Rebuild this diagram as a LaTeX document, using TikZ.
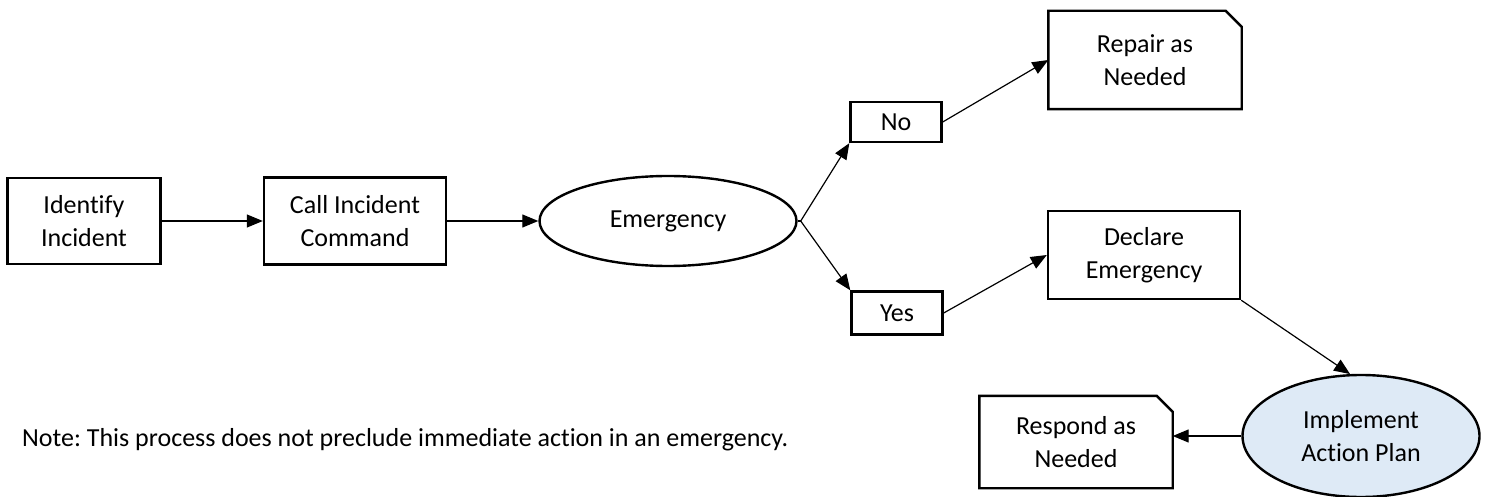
\documentclass[tikz,border=0pt]{standalone}
\usepackage{fontspec}
\setmainfont[Ligatures=NoCommon]{Carlito}
\usetikzlibrary{shapes.geometric,arrows.meta}
\definecolor{implfill}{RGB}{222,234,246}
\frenchspacing
\tikzset{
  box/.style={draw, line width=2.4pt, rectangle, align=center, inner sep=0pt},
  ebox/.style={rectangle, align=center, inner sep=0pt},
  oval/.style={draw, line width=2.4pt, ellipse, align=center, inner sep=0pt},
  conn/.style={line width=1.2pt, -{Triangle[length=16pt,width=13pt]}},
  plain/.style={line width=1.2pt},
  ear/.style={draw, line width=2.4pt, line join=miter}
}
\begin{document}
\begin{tikzpicture}[x=1pt,y=-1pt,font=\fontsize{26}{33}\selectfont]
\useasboundingbox (0,0) rectangle (1486,497);
\node[box, minimum width=153pt, minimum height=86pt] (id) at (84,221) {Identify\\Incident};
\node[box, minimum width=182pt, minimum height=87pt] (call) at (355,221) {Call Incident\\Command};
\node[oval, minimum width=257pt, minimum height=90pt] (emerg) at (668,221) {Emergency};
\node[box, minimum width=91pt, minimum height=40pt] (no) at (896,122) {No};
\node[box, minimum width=91pt, minimum height=43pt] (yes) at (897,313) {Yes};
\node[ebox, minimum width=193pt, minimum height=98pt] (repair) at (1145,60) {Repair as\\Needed};
\node[box, minimum width=192pt, minimum height=88pt] (declare) at (1144,255) {Declare\\Emergency};
\node[oval, fill=implfill, minimum width=237pt, minimum height=122pt] (impl) at (1361,436) {Implement\\Action Plan};
\node[ebox, minimum width=193pt, minimum height=92pt] (respond) at (1076,442) {Respond as\\Needed};
\node[anchor=west, inner sep=0pt] (note) at (22,440) {Note: This process does not preclude immediate action in an emergency.};
% dog-eared boxes
\draw[ear] (repair.south west) -- (repair.north west) -- ([xshift=-16pt]repair.north east) -- ([yshift=-16pt]repair.north east) -- (repair.south east) -- cycle;
\draw[ear] (respond.south west) -- (respond.north west) -- ([xshift=-16pt]respond.north east) -- ([yshift=-16pt]respond.north east) -- (respond.south east) -- cycle;
% connectors
\coordinate (split) at ([xshift=3pt]emerg.east);
\draw[conn] (id.east) -- (call.west);
\draw[conn] (call.east) -- (emerg.west);
\draw[plain] (emerg.east) -- (split);
\draw[conn] (split) -- (no.south west);
\draw[conn] (split) -- (yes.north west);
\draw[conn] (no.east) -- (repair.west);
\draw[conn] (yes.east) -- (declare.west);
\draw[conn] (declare.south east) -- (impl.100);
\draw[conn] (impl.west) -- (respond.east |- impl.west);
\end{tikzpicture}
\end{document}
